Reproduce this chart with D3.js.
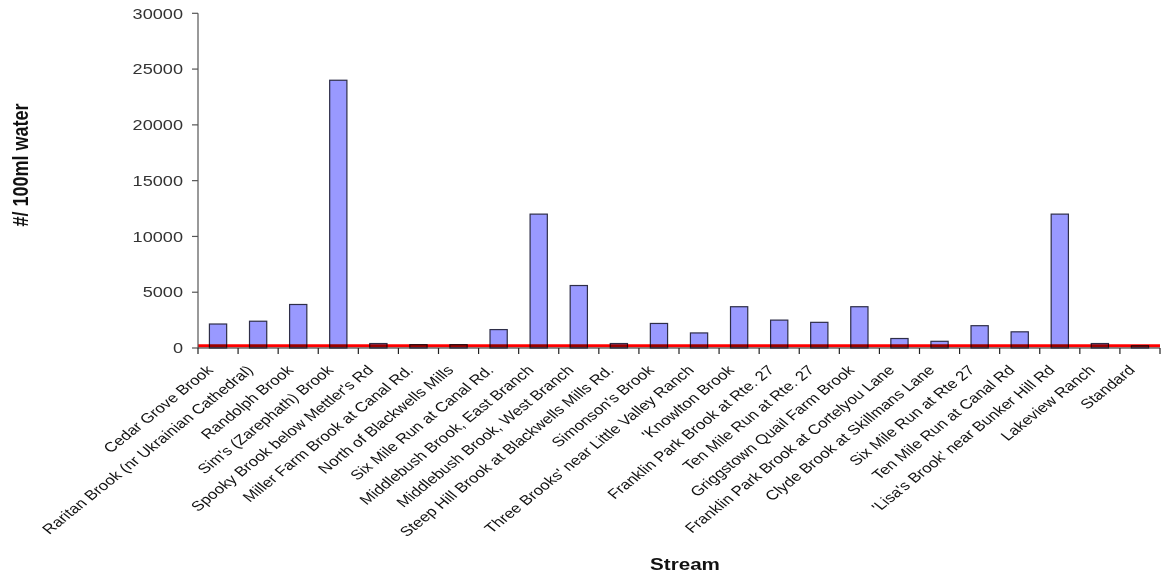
<!DOCTYPE html>
<html>
<head>
<meta charset="utf-8">
<script src="https://cdn.jsdelivr.net/npm/d3@7/dist/d3.min.js"></script>
<style>
  html, body { margin: 0; padding: 0; background: #fff; }
  svg { display: block; font-family: Arial, "Liberation Sans", sans-serif; }
</style>
</head>
<body>
<svg id="chart" width="1162" height="576"></svg>
<script>
// Stream sampling sites
const streams = [
  "Cedar Grove Brook",
  "Raritan Brook (nr Ukrainian Cathedral)",
  "Randolph Brook",
  "Sim's (Zarephath) Brook",
  "Spooky Brook below Mettler's Rd",
  "Miller Farm Brook at Canal Rd.",
  "North of Blackwells Mills",
  "Six Mile Run at Canal Rd.",
  "Middlebush Brook, East Branch",
  "Middlebush Brook, West Branch",
  "Steep Hill Brook at Blackwells Mills Rd.",
  "Simonson's Brook",
  "Three Brooks' near Little Valley Ranch",
  "'Knowlton Brook",
  "Franklin Park Brook at Rte. 27",
  "Ten Mile Run at Rte. 27",
  "Griggstown Quail Farm Brook",
  "Franklin Park Brook at Cortelyou Lane",
  "Clyde Brook at Skillmans Lane",
  "Six Mile Run at Rte 27",
  "Ten Mile Run at Canal Rd",
  "'Lisa's Brook' near Bunker Hill Rd",
  "Lakeview Ranch",
  "Standard"
];

// Counts per 100 ml of water
const counts = [
  2150, 2400, 3900, 24000, 400, 300, 300, 1650, 12000, 5600, 400, 2200,
  1350, 3700, 2500, 2300, 3700, 850, 600, 2000, 1450, 12000, 400, 200
];

// Regulatory standard drawn as a horizontal line
const standardValue = 200;

const yTicks = [0, 5000, 10000, 15000, 20000, 25000, 30000];
const yTitle = "#/ 100ml water";
const xTitle = "Stream";

const svg = d3.select("#chart");
const plotLeft = 198, plotRight = 1160, plotTop = 13.3, plotBottom = 348;
const sx = 1.25; // horizontal text stretch

const data = streams.map((s, i) => ({ name: s, value: counts[i] }));

const x = d3.scaleBand()
  .domain(streams)
  .range([plotLeft, plotRight])
  .paddingInner(0.57)
  .paddingOuter(0.285);

const y = d3.scaleLinear().domain([0, 30000]).range([plotBottom, plotTop]);

// bars
svg.append("g")
  .selectAll("rect")
  .data(data)
  .join("rect")
  .attr("x", d => x(d.name))
  .attr("y", d => y(d.value))
  .attr("width", x.bandwidth())
  .attr("height", d => plotBottom - y(d.value))
  .attr("fill", "#9999ff")
  .attr("stroke", "#2e2e48")
  .attr("stroke-width", 1.2);

// standard line
svg.append("line")
  .attr("x1", plotLeft).attr("x2", plotRight)
  .attr("y1", y(standardValue)).attr("y2", y(standardValue))
  .attr("stroke", "#ff0000")
  .attr("stroke-width", 2.8)
  .style("mix-blend-mode", "multiply");

// y axis
const yAxis = svg.append("g").attr("transform", `translate(${plotLeft},0)`);
yAxis.append("line")
  .attr("x1", 0).attr("x2", 0).attr("y1", plotTop).attr("y2", plotBottom)
  .attr("stroke", "#555").attr("stroke-width", 1.2);
const yt = yAxis.selectAll("g.tick").data(yTicks).join("g")
  .attr("class", "tick")
  .attr("transform", d => `translate(0,${y(d)})`);
yt.append("line").attr("x1", -6).attr("x2", 0).attr("stroke", "#555").attr("stroke-width", 1.2);
yt.append("text")
  .attr("transform", `translate(-15,0) scale(${sx},1)`)
  .attr("text-anchor", "end")
  .attr("dy", "0.36em")
  .attr("font-size", 14.5)
  .attr("fill", "#333")
  .text(d => d);

// x axis
const step = x.step();
const boundaries = d3.range(streams.length + 1).map(i => plotLeft + i * step);
const xAxis = svg.append("g");
xAxis.append("line")
  .attr("x1", plotLeft).attr("x2", plotRight).attr("y1", plotBottom).attr("y2", plotBottom)
  .attr("stroke", "#222").attr("stroke-width", 1.2);
xAxis.selectAll("line.tk").data(boundaries).join("line")
  .attr("class", "tk")
  .attr("x1", d => d).attr("x2", d => d)
  .attr("y1", plotBottom).attr("y2", plotBottom + 6)
  .attr("stroke", "#222").attr("stroke-width", 1.2);
xAxis.selectAll("text").data(streams).join("text")
  .attr("transform", d => `translate(${x(d) + x.bandwidth() / 2 - 4},${plotBottom + 23}) scale(${sx},1) rotate(-45)`)
  .attr("text-anchor", "end")
  .attr("font-size", 13.6)
  .attr("fill", "#111")
  .text(d => d);

// axis titles
svg.append("text")
  .attr("transform", `translate(28,165) scale(${sx},1) rotate(-90)`)
  .attr("text-anchor", "middle")
  .attr("font-size", 18)
  .attr("font-weight", "bold")
  .attr("fill", "#111")
  .text(yTitle);

svg.append("text")
  .attr("transform", `translate(685,570) scale(${sx},1)`)
  .attr("text-anchor", "middle")
  .attr("font-size", 16.5)
  .attr("font-weight", "bold")
  .attr("fill", "#111")
  .text(xTitle);
</script>
</body>
</html>
